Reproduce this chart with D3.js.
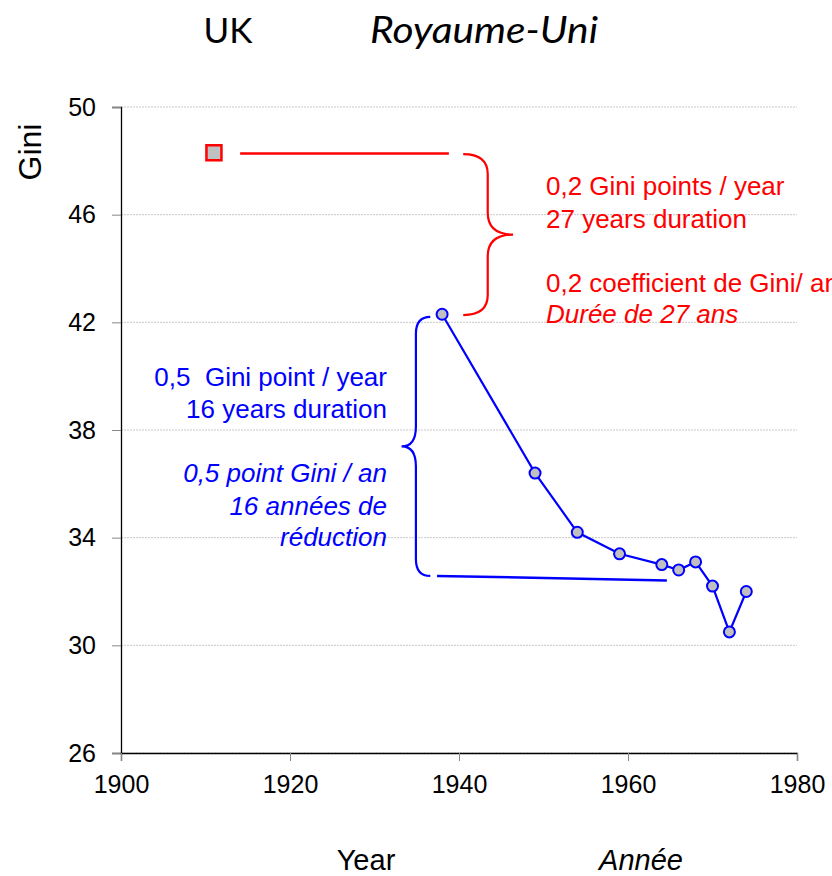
<!DOCTYPE html>
<html>
<head>
<meta charset="utf-8">
<script src="https://cdn.jsdelivr.net/npm/d3@7"></script>
<style>
  body { margin: 0; background: #fff; }
  text { font-family: "Liberation Sans", Arial, sans-serif; }
</style>
</head>
<body>
<div id="chart"></div>
<script>
// Gini series, UK
const years = [1938, 1949, 1954, 1959, 1964, 1966, 1968, 1970, 1972, 1974];
const gini = [42.3, 36.4, 34.2, 33.4, 33.0, 32.8, 33.1, 32.2, 30.5, 32.0];
const earlyYear = [1911];
const earlyGini = [48.3];

const xTicks = [1900, 1920, 1940, 1960, 1980];
const yTicks = [26, 30, 34, 38, 42, 46, 50];

// annotation text
const redNotes = ["0,2 Gini points / year", "27 years duration", "0,2 coefficient de Gini/ an", "Durée de 27 ans"];
const blueNotes = ["0,5  Gini point / year", "16 years duration", "0,5 point Gini / an", "16 années de", "réduction"];

const W = 832, H = 876;
const margin = { top: 107, right: 35, bottom: 123, left: 121 };
const width = W - margin.left - margin.right;
const height = H - margin.top - margin.bottom;

const x = d3.scaleLinear().domain([1900, 1980]).range([0, width]);
const y = d3.scaleLinear().domain([26, 50]).range([height, 0]);

const svg = d3.select("#chart").append("svg")
  .attr("width", W)
  .attr("height", H);

const g = svg.append("g")
  .attr("transform", `translate(${margin.left},${margin.top})`);

// gridlines
g.append("g")
  .selectAll("line")
  .data(yTicks)
  .enter().append("line")
  .attr("x1", 0).attr("x2", width)
  .attr("y1", d => y(d)).attr("y2", d => y(d))
  .attr("stroke", "#c8c8c8")
  .attr("stroke-width", 1)
  .attr("stroke-dasharray", "2,1");

// y axis
const yAxis = g.append("g")
  .call(d3.axisLeft(y).tickValues(yTicks).tickSize(9).tickPadding(16));
yAxis.attr("font-family", null).attr("font-size", null);
yAxis.select(".domain").attr("stroke", "#000").attr("stroke-width", 1.3);
yAxis.selectAll(".tick line").attr("stroke", "#888");
yAxis.selectAll(".tick text")
  .attr("font-size", 25)
  .attr("fill", "#000");

// x axis
const xAxis = g.append("g")
  .attr("transform", `translate(0,${height})`)
  .call(d3.axisBottom(x).tickValues(xTicks).tickFormat(d3.format("d")).tickSize(8).tickPadding(14));
xAxis.attr("font-family", null).attr("font-size", null);
xAxis.select(".domain").attr("stroke", "#000").attr("stroke-width", 1.3);
xAxis.selectAll(".tick line").attr("stroke", "#888");
xAxis.selectAll(".tick text")
  .attr("font-size", 25)
  .attr("fill", "#000");

// brace helper: open side at xo, stem at xs, tip at xt, from yTop to yBot
function brace(xo, xs, xt, yTop, yBot, rEnd, rMid) {
  const ym = (yTop + yBot) / 2;
  const p = d3.path();
  p.moveTo(xo, yTop);
  p.quadraticCurveTo(xs, yTop, xs, yTop + rEnd);
  p.lineTo(xs, ym - rMid);
  p.quadraticCurveTo(xs, ym, xt, ym);
  p.quadraticCurveTo(xs, ym, xs, ym + rMid);
  p.lineTo(xs, yBot - rEnd);
  p.quadraticCurveTo(xs, yBot, xo, yBot);
  return p.toString();
}

// red annotation: reference line and brace
g.append("line")
  .attr("x1", x(1914.1)).attr("x2", x(1938.8))
  .attr("y1", y(48.27)).attr("y2", y(48.27))
  .attr("stroke", "#ff0000").attr("stroke-width", 2.5);

g.append("path")
  .attr("d", brace(x(1940.5), x(1943.4), x(1946.4), y(48.25), y(42.27), 20, 22))
  .attr("fill", "none").attr("stroke", "#ff0000").attr("stroke-width", 2.2);

// blue annotation: reference line and brace
g.append("line")
  .attr("x1", x(1937.4)).attr("x2", x(1964.6))
  .attr("y1", y(32.58)).attr("y2", y(32.41))
  .attr("stroke", "#0000ff").attr("stroke-width", 2.5);

g.append("path")
  .attr("d", brace(x(1936.6), x(1934.9), x(1933.2), y(42.2), y(32.58), 17, 20))
  .attr("fill", "none").attr("stroke", "#0000ff").attr("stroke-width", 2.2);

// series line
const pts = years.map((d, i) => [d, gini[i]]);
g.append("path")
  .datum(pts)
  .attr("d", d3.line().x(d => x(d[0])).y(d => y(d[1])))
  .attr("fill", "none")
  .attr("stroke", "#0000ff")
  .attr("stroke-width", 2.2);

g.selectAll(".dot")
  .data(pts)
  .enter().append("circle")
  .attr("class", "dot")
  .attr("cx", d => x(d[0]))
  .attr("cy", d => y(d[1]))
  .attr("r", 5.5)
  .attr("fill", "#c0c0c0")
  .attr("stroke", "#0000ff")
  .attr("stroke-width", 2);

// early point
g.selectAll(".sq")
  .data(earlyYear.map((d, i) => [d, earlyGini[i]]))
  .enter().append("rect")
  .attr("class", "sq")
  .attr("x", d => x(d[0]) - 7.5)
  .attr("y", d => y(d[1]) - 7.5)
  .attr("width", 15)
  .attr("height", 15)
  .attr("fill", "#c0c0c0")
  .attr("stroke", "#ff0000")
  .attr("stroke-width", 2.5);

// red notes
const redY = [195, 228, 292, 323];
svg.append("g")
  .selectAll("text")
  .data(redNotes)
  .enter().append("text")
  .attr("x", 546)
  .attr("y", (d, i) => redY[i])
  .attr("font-size", 26)
  .attr("fill", "#ff0000")
  .attr("font-style", (d, i) => i === 3 ? "italic" : "normal")
  .text(d => d);

// blue notes
const blueY = [386, 418, 482, 515, 546];
svg.append("g")
  .selectAll("text")
  .data(blueNotes)
  .enter().append("text")
  .attr("x", 387)
  .attr("y", (d, i) => blueY[i])
  .attr("text-anchor", "end")
  .attr("font-size", 26)
  .attr("fill", "#0000ff")
  .attr("font-style", (d, i) => i >= 2 ? "italic" : "normal")
  .style("white-space", "pre")
  .text(d => d);

// titles
svg.append("text")
  .attr("x", 228).attr("y", 43)
  .attr("text-anchor", "middle")
  .attr("font-size", 35)
  .style("font-family", "Lato, 'Open Sans', sans-serif")
  .text("UK");
svg.append("text")
  .attr("x", 370).attr("y", 43)
  .attr("font-size", 36)
  .attr("font-style", "italic")
  .attr("textLength", 228)
  .attr("lengthAdjust", "spacingAndGlyphs")
  .style("font-family", "Lato, 'Open Sans', sans-serif")
  .text("Royaume-Uni");

// axis titles
svg.append("text")
  .attr("transform", "translate(41,152) rotate(-90)")
  .attr("text-anchor", "middle")
  .attr("font-size", 32)
  .text("Gini");
svg.append("text")
  .attr("x", 366).attr("y", 870)
  .attr("text-anchor", "middle")
  .attr("font-size", 29)
  .text("Year");
svg.append("text")
  .attr("x", 641).attr("y", 870)
  .attr("text-anchor", "middle")
  .attr("font-size", 29)
  .attr("font-style", "italic")
  .text("Année");
</script>
</body>
</html>
